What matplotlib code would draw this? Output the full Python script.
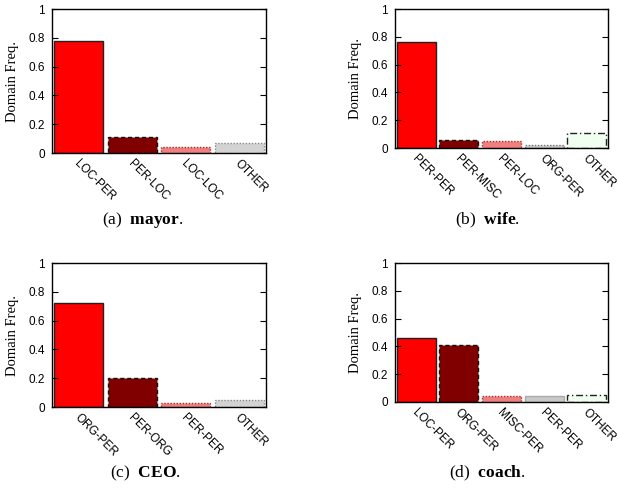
import matplotlib
matplotlib.use('Agg')
import matplotlib.pyplot as plt
import matplotlib.transforms as mtransforms

# Domain frequency per relation
mayor_labels = ['LOC-PER', 'PER-LOC', 'LOC-LOC', 'OTHER']
mayor_freq = [0.78, 0.11, 0.04, 0.07]

wife_labels = ['PER-PER', 'PER-MISC', 'PER-LOC', 'ORG-PER', 'OTHER']
wife_freq = [0.76, 0.06, 0.05, 0.02, 0.11]

ceo_labels = ['ORG-PER', 'PER-ORG', 'PER-PER', 'OTHER']
ceo_freq = [0.72, 0.20, 0.03, 0.05]

coach_labels = ['LOC-PER', 'ORG-PER', 'MISC-PER', 'PER-PER', 'OTHER']
coach_freq = [0.46, 0.41, 0.04, 0.04, 0.05]

y_ticks = [0, 0.2, 0.4, 0.6, 0.8, 1]
y_tick_labels = ['0', '0.2', '0.4', '0.6', '0.8', '1']

plt.rcParams['mathtext.fontset'] = 'custom'
plt.rcParams['mathtext.rm'] = 'Liberation Serif'
plt.rcParams['mathtext.bf'] = 'Liberation Serif:bold'

W, H = 618, 490

# gnuplot-like bar styles: (face, edge, linestyle)
STYLE_4 = [('#ff0000', '#222222', '-'),
           ('#800000', '#111111', (0, (3, 2))),
           ('#f08080', '#a03030', (0, (1, 1.2))),
           ('#d3d3d3', '#888888', (0, (1, 1.2)))]
STYLE_B = [('#ff0000', '#222222', '-'),
           ('#800000', '#111111', (0, (3, 2))),
           ('#f08080', '#a03030', (0, (1, 1.2))),
           ('#c8c8c8', '#777777', (0, (1, 1.2))),
           ('#f0fff0', '#222222', (0, (5, 2, 1, 2)))]
STYLE_D = [('#ff0000', '#222222', '-'),
           ('#800000', '#111111', (0, (3, 2))),
           ('#f08080', '#a03030', (0, (1, 1.2))),
           ('#c8c8c8', '#aaaaaa', '-'),
           ('#f0fff0', '#222222', (0, (5, 2, 1, 2)))]


def panel(fig, box, labels, freq, styles, caption, word, cap_x, cap_y):
  left, top, right, bottom = box
  ax = fig.add_axes([left / W, 1 - bottom / H, (right - left) / W, (bottom - top) / H])
  n = len(freq)
  for i in range(n):
    face, edge, ls = styles[i]
    ax.bar(i, freq[i], width=0.92, color=face, edgecolor=edge,
           linestyle=ls, linewidth=1.0)
  ax.set_xlim(-0.5, n - 0.5)
  ax.set_ylim(0, 1)
  ax.set_yticks(y_ticks)
  ax.set_yticklabels(y_tick_labels, fontfamily='Liberation Sans', fontsize=8.5)
  ax.tick_params(axis='y', direction='in', length=4, right=True, pad=5)
  ax.set_xticks(range(n))
  ax.set_xticklabels(labels, rotation=-45, ha='left', va='top',
                     rotation_mode='anchor', fontfamily='Liberation Sans',
                     fontsize=8.5)
  ax.tick_params(axis='x', length=0, pad=3)
  shift = mtransforms.ScaledTranslation(2 / 100, 0, fig.dpi_scale_trans)
  for lbl in ax.get_xticklabels():
    lbl.set_transform(lbl.get_transform() + shift)
  for s in ax.spines.values():
    s.set_linewidth(1.0)
  ax.set_ylabel('Domain Freq.', fontfamily='Liberation Serif', fontsize=10.5,
                labelpad=7)
  fig.text(cap_x / W, 1 - cap_y / H, caption + r'  $\mathbf{' + word + '}$.',
           ha='center', va='center', fontfamily='Liberation Serif',
           fontsize=12.5)
  return ax


fig = plt.figure(figsize=(W / 100, H / 100), dpi=100)

panel(fig, (52, 9, 266, 153), mayor_labels, mayor_freq, STYLE_4,
      '(a)', 'mayor', 143, 220)
panel(fig, (395, 9, 608, 148), wife_labels, wife_freq, STYLE_B,
      '(b)', 'wife', 487, 220)
panel(fig, (52, 263, 266, 407), ceo_labels, ceo_freq, STYLE_4,
      '(c)', 'CEO', 145, 473)
panel(fig, (395, 263, 608, 402), coach_labels, coach_freq, STYLE_D,
      '(d)', 'coach', 487, 473)

fig.savefig('out.png', dpi=100)
